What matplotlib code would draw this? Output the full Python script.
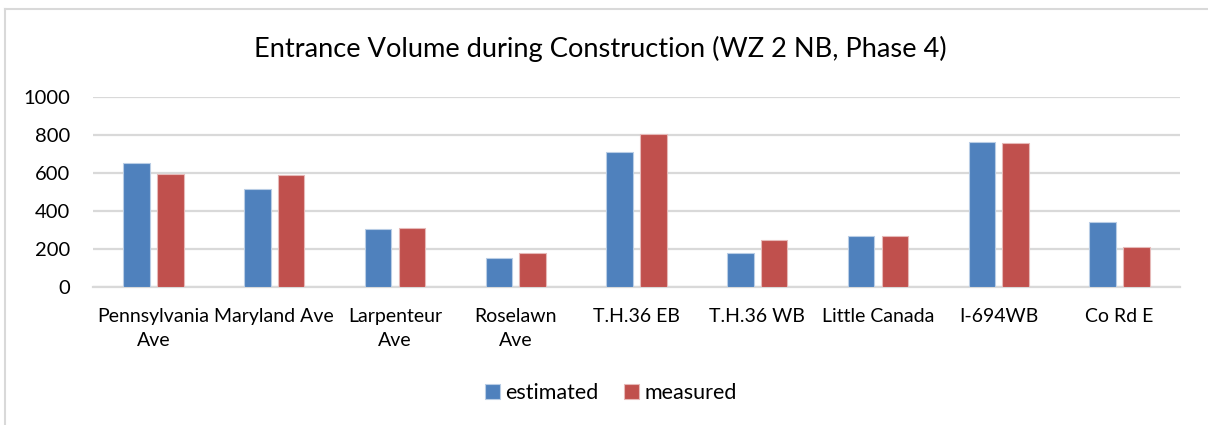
import matplotlib
matplotlib.use("Agg")
import matplotlib.pyplot as plt
import numpy as np
from matplotlib.lines import Line2D

categories = ["Pennsylvania\nAve", "Maryland Ave", "Larpenteur\nAve", "Roselawn\nAve",
              "T.H.36 EB", "T.H.36 WB", "Little Canada", "I-694WB", "Co Rd E"]
estimated = [653, 514, 303, 154, 712, 179, 267, 761, 342]
measured = [593, 591, 312, 181, 807, 246, 267, 760, 212]
y_ticks = [0, 200, 400, 600, 800, 1000]

plt.rcParams['font.family'] = ['Lato', 'DejaVu Sans']

W, H = 1208, 425
fig = plt.figure(figsize=(W / 100, H / 100), dpi=100)

# light chart-area border (left and top edges)
fig.lines.append(Line2D([4.5 / W, 4.5 / W], [0, 1 - 8.5 / H], transform=fig.transFigure,
                        color="#D9D9D9", linewidth=1.5))
fig.lines.append(Line2D([4.5 / W, 1], [1 - 8.5 / H, 1 - 8.5 / H], transform=fig.transFigure,
                        color="#D9D9D9", linewidth=1.5))

ax = fig.add_axes([93 / W, 1 - 287 / H, (1180 - 93) / W, (287 - 97) / H])

x = np.arange(len(categories))
w = 0.22
gap = 0.06
ax.bar(x - (w + gap) / 2, estimated, w, color="#4F81BD", edgecolor="#B9CDE5",
       linewidth=0.8, label="estimated", zorder=3)
ax.bar(x + (w + gap) / 2, measured, w, color="#C0504D", edgecolor="#E6B9B8",
       linewidth=0.8, label="measured", zorder=3)

ax.set_xlim(-0.5, len(categories) - 0.5)
ax.set_ylim(0, 1000)
ax.set_yticks(y_ticks)
ax.set_yticklabels([str(v) for v in y_ticks], fontsize=14.5, color="#000000")
ax.set_xticks(x)
ax.set_xticklabels(categories, fontsize=14, color="#000000", linespacing=1.5)
ax.tick_params(axis="both", length=0)
ax.tick_params(axis="y", pad=16.5)
ax.tick_params(axis="x", pad=15)
ax.yaxis.grid(True, color="#D9D9D9", linewidth=1.6, zorder=0)
ax.set_axisbelow(True)
for side in ["left", "right", "top"]:
    ax.spines[side].set_visible(False)
ax.spines["bottom"].set_color("#D9D9D9")
ax.spines["bottom"].set_linewidth(1.6)

fig.text(600.5 / W, 1 - 56.7 / H, "Entrance Volume during Construction (WZ 2 NB, Phase 4)",
         ha="center", va="baseline", fontsize=19.6, color="#000000")

fig.legend(loc="center", bbox_to_anchor=(611 / W, 1 - 392.7 / H), ncol=2,
           frameon=False, fontsize=15.5, handlelength=0.7, handleheight=0.7,
           handletextpad=0.23, columnspacing=1.2, borderpad=0)

fig.savefig("out.png", dpi=100, facecolor="white")
